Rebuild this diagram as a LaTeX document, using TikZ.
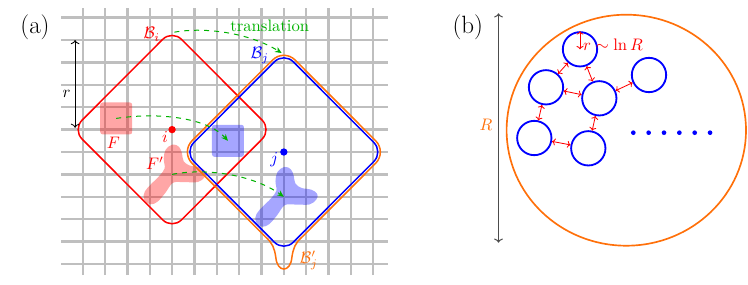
\documentclass[tikz,border=0pt]{standalone}
\usetikzlibrary{arrows.meta}

\definecolor{ballorange}{RGB}{255,112,10}

\tikzset{
  gridline/.style={black!25, line width=1.4pt},
  ball/.style={line width=0.9pt, rounded corners=8pt},
  patch/.style={fill=#1, fill opacity=0.35, minimum size=19.2pt, inner sep=0pt, rounded corners=1.5pt},
  blob/.style={draw=#1, fill=#1, line width=2pt, line join=round},
  shiftarrow/.style={green!70!black, dashed, line width=0.6pt, -{Stealth[length=4pt, width=3.5pt]}},
  disk/.style={circle, draw=blue, line width=1.1pt, minimum size=20.6pt, inner sep=0pt},
  link/.style={red, line width=0.5pt, {To[length=2pt]}-{To[length=2pt]}},
  panel/.style={font=\fontsize{15}{18}\selectfont},
}

% outline of the pattern F' (in lattice units, around its centre)
\newcommand{\tripod}{plot[smooth cycle, tension=0.6] coordinates {(0.04,1.26) (-0.22,1.07) (-0.3,0.7) (-0.26,0.25) (-0.52,-0.12) (-0.89,-0.49) (-1.15,-0.79) (-1.19,-1.08) (-0.97,-1.26) (-0.7,-1.16) (-0.37,-0.79) (0,-0.31) (0.52,-0.27) (1.12,-0.27) (1.39,-0.08) (1.42,0.1) (1.19,0.25) (0.75,0.33) (0.45,0.55) (0.37,0.92) (0.26,1.17)}}

\begin{document}
\begin{tikzpicture}[x=0.6pt, y=0.6pt]
\useasboundingbox (0,0) rectangle (748,284);

% Panel labels
\node[panel] (pa) at (35,256.5) {(a)};
\node[panel] (pb) at (467.8,257) {(b)};

% ---------- (a) lattice ----------
\begin{scope}[shift={(82.7,20)}, x=13.41pt, y=13.44pt]

% Grid
\foreach \c in {0,...,13} \draw[gridline] (\c,-0.5) -- (\c,11.42);
\foreach \r in {0,...,11} \draw[gridline] (-0.97,\r) -- (13.67,\r);

% Patterns F, F' and their translates
\node[patch=red] (F) at (1.5,6.5) {};
\node[patch=blue] (Fj) at (6.5,5.5) {};
\coordinate (Fp) at (4,4);
\coordinate (Fpj) at (9,3);
\begin{scope}[transparency group, opacity=0.35]
  \path[blob=red, shift={(Fp)}] \tripod;
\end{scope}
\begin{scope}[transparency group, opacity=0.35]
  \path[blob=blue, shift={(Fpj)}] \tripod;
\end{scope}

% Balls B_i, B_j and B'_j
\draw[ball, red, shift={(4,6)}] (-2.2,2.25) -- (0,4.45) -- (4.45,0) -- (0,-4.45) -- (-4.45,0) -- cycle;
\draw[ball, ballorange, rounded corners=9.5pt, shift={(9,5)}] (-0.82,-3.79) -- (-4.61,0) -- (0,4.61) -- (4.61,0) -- (0.82,-3.79);
\draw[ballorange, line width=0.9pt, shift={(9,5)}] (0.82,-3.79)
  .. controls (0.5,-4.07) and (0.42,-4.3) .. (0.36,-4.7)
  .. controls (0.3,-5.4) and (-0.3,-5.4) .. (-0.36,-4.7)
  .. controls (-0.42,-4.3) and (-0.5,-4.07) .. (-0.82,-3.79);
\draw[ball, blue, shift={(9,5)}] (-2.2,2.25) -- (0,4.45) -- (4.45,0) -- (0,-4.45) -- (-4.45,0) -- cycle;

% Centres
\coordinate (i) at (4,6);
\coordinate (j) at (9,5);
\fill[red] (i) circle (2.2pt);
\fill[blue] (j) circle (2.2pt);

% Radius r
\coordinate (rtop) at (-0.34,10);
\coordinate (rbot) at (-0.34,6.08);
\draw[{To[length=2.5pt]}-{To[length=2.5pt]}, line width=0.5pt] (rtop) -- (rbot);
\node (rl) at (-0.72,7.58) {$r$};

% Translation arrows
\coordinate (ti) at (4.1,10.35);
\coordinate (tj) at (8.9,9.42);
\draw[shiftarrow] (ti) .. controls (5.5,10.6) and (7.5,10.3) .. (tj);
\draw[shiftarrow] (F.center) .. controls (3.5,6.8) and (5.6,6.5) .. (Fj.center);
\draw[shiftarrow] (Fp) .. controls (5.5,4.3) and (7.6,4.0) .. (Fpj);
\node[green!70!black] (tl) at (8.37,10.63) {translation};

% Labels
\node[red] (Bi) at (3.09,10.25) {$\mathcal{B}_i$};
\node[blue] (Bj) at (7.93,9.3) {$\mathcal{B}_j$};
\node[ballorange, inner sep=1pt] (Bpj) at (10.12,0.15) {$\mathcal{B}'_j$};
\node[red] (il) at (3.68,5.68) {$i$};
\node[blue] (jl) at (8.57,4.66) {$j$};
\node[red] (Fl) at (1.37,5.43) {$F$};
\node[red] (Fpl) at (3.23,4.5) {$F'$};

\end{scope}

% ---------- (b) system of size R ----------
\draw[ballorange, line width=1pt] (626.3,153.8) ellipse [x radius=119.7, y radius=115.5];

\coordinate (Rtop) at (498.5,270.7);
\coordinate (Rbot) at (498.5,41.3);
\draw[black!70, line width=0.6pt, {To[length=2.5pt]}-{To[length=2.5pt]}] (Rtop) -- (Rbot);
\node[ballorange] (Rl) at (486,159) {$R$};

% Clusters
\node[disk] (c1) at (580,234.7) {};
\node[disk] (c2) at (546,196.7) {};
\node[disk] (c3) at (599.3,185.7) {};
\node[disk] (c4) at (649,209) {};
\node[disk] (c5) at (534.3,146) {};
\node[disk] (c6) at (588.3,135.7) {};

\draw[link] (c1.north) -- (c1.center);
\node[red] (rlnR) at (613,239.7) {$r\sim\ln R$};

\foreach \a/\b in {c1/c2, c1/c3, c2/c3, c3/c4, c2/c5, c3/c6, c5/c6}
  \draw[link] (\a) -- (\b);

% More clusters
\foreach \k in {0,...,5}
  \fill[blue] (633.3+15.35*\k,151.3) circle (1.4pt);

\end{tikzpicture}
\end{document}
